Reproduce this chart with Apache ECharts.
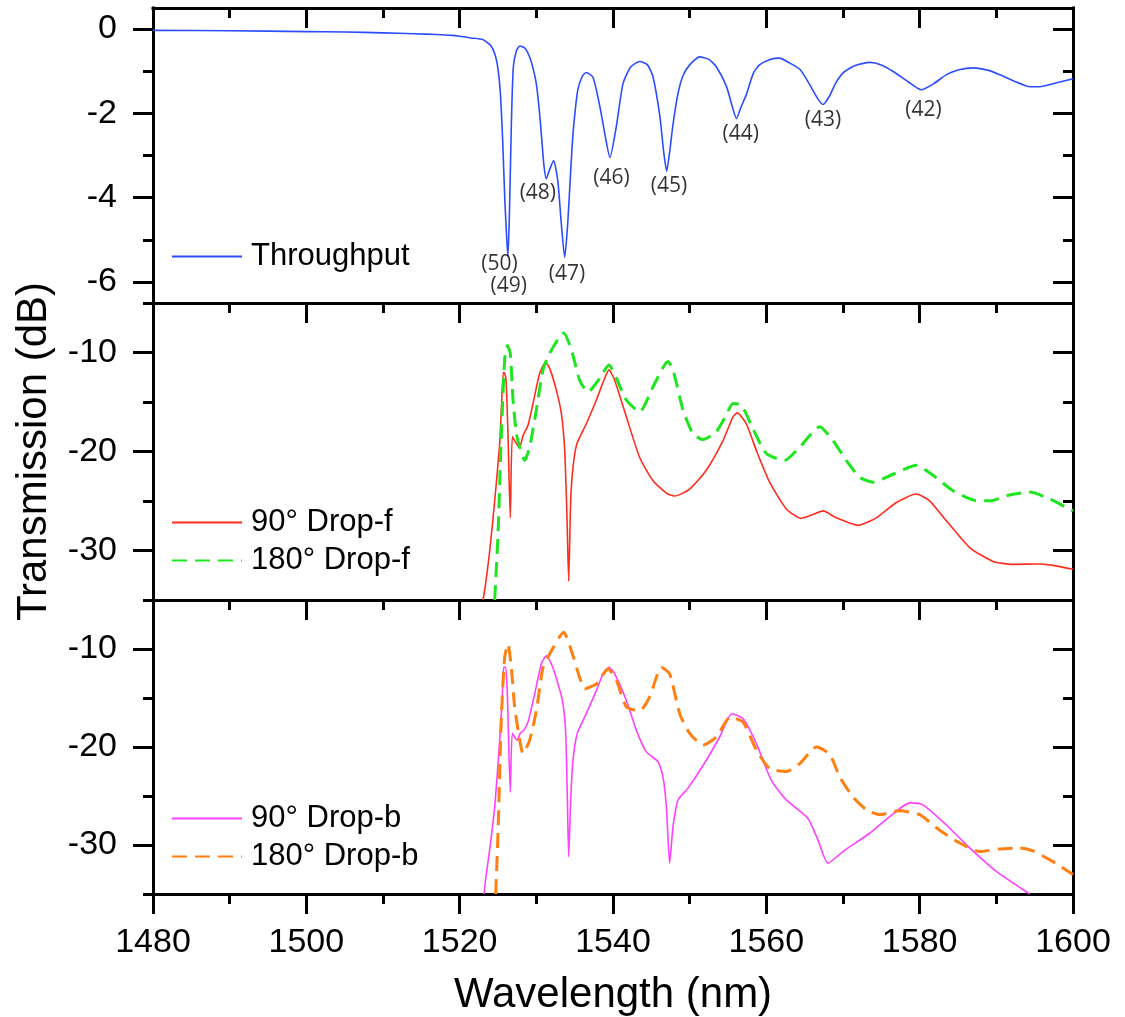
<!DOCTYPE html>
<html>
<head>
<meta charset="utf-8">
<script src="https://cdn.jsdelivr.net/npm/echarts@6/dist/echarts.min.js"></script>
<style>
html,body{margin:0;padding:0;background:#fff;}
#chart{width:1125px;height:1017px;}
</style>
</head>
<body>
<div id="chart"></div>
<script>
// ---------------- DATA ----------------
const xTicks = [1480, 1500, 1520, 1540, 1560, 1580, 1600];

const p1MajorTicks = [-6, -4, -2, 0];
const p1MinorTicks = [-5, -3, -1];
const p23MajorTicks = [-30, -20, -10];
const p23MinorTicks = [-35, -25, -15, -5];

// Throughput
const tpWl = [1480, 1490, 1500, 1505, 1510, 1514, 1517, 1519, 1520, 1521.5, 1523, 1524, 1524.6, 1525, 1525.3, 1525.6, 1525.9, 1526.15, 1526.3, 1526.5, 1526.75, 1527, 1527.4, 1527.85, 1528.5, 1529.1, 1529.6, 1530, 1530.4, 1530.7, 1531, 1531.3, 1531.7, 1532.25, 1532.8, 1533.25, 1533.7, 1534.1, 1534.5, 1534.8, 1535.4, 1536, 1536.5, 1537.4, 1538.3, 1539, 1539.6, 1540.4, 1541.3, 1542.3, 1543.5, 1544.5, 1545.2, 1546.1, 1546.6, 1547, 1547.4, 1547.8, 1548.4, 1549.1, 1550, 1551.3, 1552.5, 1553.5, 1554.8, 1555.5, 1556.1, 1556.7, 1557.4, 1558.3, 1559.1, 1560.5, 1561.7, 1563, 1564.4, 1565.6, 1566.7, 1567.4, 1568.2, 1569, 1570, 1571.5, 1573.5, 1575, 1576.5, 1578.5, 1580.2, 1581.8, 1583.5, 1585, 1587, 1589, 1590.4, 1592.5, 1594.4, 1595.5, 1596.5, 1598, 1600];
const tpVal = [-0.03, -0.04, -0.06, -0.07, -0.09, -0.11, -0.13, -0.15, -0.17, -0.21, -0.25, -0.38, -0.6, -0.95, -1.5, -2.6, -4.1, -5.0, -5.4, -4.3, -2.2, -0.9, -0.52, -0.4, -0.45, -0.65, -0.95, -1.3, -1.95, -2.6, -3.25, -3.55, -3.35, -3.12, -3.6, -4.6, -5.42, -4.6, -3.3, -2.45, -1.45, -1.12, -1.03, -1.15, -1.85, -2.55, -3.05, -2.35, -1.3, -0.9, -0.77, -0.85, -1.12, -2.05, -2.9, -3.37, -2.9, -2.3, -1.6, -1.12, -0.85, -0.66, -0.72, -0.9, -1.36, -1.8, -2.12, -1.85, -1.55, -1.05, -0.85, -0.72, -0.69, -0.8, -0.96, -1.3, -1.65, -1.79, -1.6, -1.3, -1.04, -0.87, -0.79, -0.85, -1.0, -1.25, -1.44, -1.3, -1.08, -0.97, -0.92, -0.98, -1.08, -1.25, -1.37, -1.37, -1.34, -1.27, -1.18];

// 90° Drop-f
const dropF90Wl = [1523.05, 1523.3, 1523.91, 1524.57, 1525.22, 1525.45, 1525.7, 1525.87, 1526.05, 1526.3, 1526.6, 1526.87, 1527.4, 1527.83, 1528.26, 1528.91, 1529.57, 1530.44, 1531.22, 1531.74, 1532.61, 1533.27, 1533.7, 1534.0, 1534.22, 1534.48, 1534.78, 1535.3, 1536.52, 1537.83, 1538.91, 1539.48, 1540.22, 1541.74, 1543.48, 1545.22, 1546.96, 1548.04, 1550.0, 1552.17, 1554.35, 1555.65, 1556.2, 1557.39, 1558.7, 1560.43, 1562.61, 1564.57, 1566.0, 1567.39, 1569.13, 1571.96, 1574.35, 1576.96, 1579.57, 1581.3, 1583.48, 1586.52, 1589.57, 1592.17, 1595.22, 1597.39, 1600];
const dropF90Val = [-35, -33.8, -30.1, -25.0, -19.2, -15.5, -12.0, -12.1, -12.8, -18.2, -26.7, -18.5, -19.2, -19.56, -18.4, -17.35, -15.15, -12.1, -11.0, -11.6, -13.8, -16.2, -19.9, -26.7, -33.1, -25.0, -21.6, -19.2, -17.2, -14.8, -12.6, -11.76, -12.8, -16.5, -20.6, -22.95, -24.2, -24.5, -23.8, -21.9, -18.9, -16.5, -16.1, -17.2, -19.9, -23.1, -25.8, -26.75, -26.4, -26.0, -26.7, -27.46, -26.7, -25.15, -24.3, -24.98, -27.0, -29.7, -31.1, -31.4, -31.36, -31.5, -31.9];

// 180° Drop-f
const dropF180Wl = [1524.57, 1525.0, 1525.44, 1525.87, 1526.22, 1526.6, 1526.96, 1527.4, 1527.83, 1528.48, 1529.13, 1530.0, 1530.87, 1531.74, 1533.57, 1534.57, 1535.65, 1536.74, 1538.26, 1539.48, 1540.44, 1541.74, 1543.48, 1545.22, 1547.17, 1547.83, 1549.13, 1550.43, 1551.74, 1553.48, 1554.78, 1555.65, 1556.74, 1558.26, 1560.0, 1562.39, 1564.35, 1566.96, 1568.7, 1570.43, 1572.17, 1573.91, 1576.52, 1579.57, 1581.74, 1584.35, 1586.96, 1589.13, 1591.74, 1594.35, 1596.96, 1600];
const dropF180Val = [-35, -28.4, -18.2, -10.7, -9.3, -10.06, -14.8, -18.2, -19.56, -20.9, -19.56, -15.8, -11.76, -10.06, -8.03, -9.7, -12.8, -14.0, -12.6, -11.25, -12.6, -14.8, -16.0, -13.46, -10.9, -11.76, -15.8, -18.2, -18.8, -18.0, -16.3, -15.15, -15.3, -17.7, -20.2, -20.9, -19.56, -17.5, -18.9, -20.9, -22.6, -23.1, -22.3, -21.4, -22.4, -23.97, -24.9, -24.98, -24.4, -24.1, -24.8, -26.0];

// 90° Drop-b
const dropB90Wl = [1523.18, 1523.35, 1523.91, 1524.57, 1525.22, 1525.57, 1525.74, 1526.0, 1526.22, 1526.6, 1526.87, 1527.48, 1527.91, 1528.35, 1528.91, 1529.78, 1530.66, 1531.31, 1531.96, 1532.83, 1533.48, 1533.83, 1534.05, 1534.22, 1534.48, 1534.78, 1535.35, 1536.52, 1537.83, 1538.7, 1539.48, 1540.22, 1541.74, 1543.05, 1544.35, 1545.87, 1546.52, 1546.96, 1547.39, 1547.83, 1548.48, 1549.78, 1552.17, 1553.91, 1555.5, 1556.96, 1558.7, 1560.65, 1562.61, 1565.43, 1566.74, 1568.04, 1570.0, 1573.48, 1576.09, 1578.7, 1580.43, 1583.48, 1586.52, 1590.0, 1594.35];
const dropB90Val = [-35, -33.7, -30.5, -26.1, -19.3, -14.6, -11.87, -11.87, -14.6, -24.6, -18.6, -19.3, -18.6, -18.3, -17.46, -14.6, -11.5, -10.7, -11.5, -13.56, -15.6, -18.6, -25.4, -31.2, -25.4, -21.35, -18.6, -16.6, -14.24, -12.54, -11.87, -12.54, -15.25, -18.3, -20.5, -21.5, -23.05, -26.1, -31.85, -28.1, -25.4, -24.2, -21.35, -18.98, -16.6, -17.1, -19.65, -23.4, -25.4, -27.3, -29.5, -31.85, -30.67, -28.8, -27.1, -25.7, -25.9, -27.96, -30.3, -32.7, -35.0];

// 180° Drop-b
const dropB180Wl = [1524.7, 1525.0, 1525.44, 1525.87, 1526.3, 1526.74, 1527.17, 1527.83, 1528.26, 1529.13, 1530.0, 1530.87, 1531.74, 1533.57, 1534.57, 1535.65, 1536.3, 1537.83, 1539.35, 1540.44, 1541.74, 1543.48, 1544.78, 1546.3, 1547.39, 1548.7, 1550.0, 1551.74, 1553.48, 1555.3, 1556.96, 1558.7, 1560.43, 1562.61, 1564.35, 1566.52, 1568.26, 1569.57, 1571.3, 1573.04, 1574.78, 1577.39, 1580.0, 1582.61, 1585.22, 1587.83, 1590.43, 1593.04, 1594.78, 1597.39, 1600];
const dropB180Val = [-35, -28.8, -16.95, -10.85, -9.5, -11.87, -15.9, -19.3, -20.67, -19.3, -16.3, -11.87, -10.5, -8.3, -10.17, -12.9, -14.07, -13.56, -12.03, -13.2, -15.9, -16.3, -14.9, -11.87, -12.54, -16.6, -18.6, -19.8, -18.98, -16.95, -17.46, -20.3, -22.2, -22.5, -21.7, -20.0, -20.74, -23.05, -25.1, -26.4, -26.9, -26.5, -26.9, -28.5, -29.8, -30.67, -30.4, -30.3, -30.6, -31.7, -33.0];

// Resonance order annotations (top panel)
const annoLabels = ['(50)', '(49)', '(48)', '(47)', '(46)', '(45)', '(44)', '(43)', '(42)'];
const annoWl = [1525.2, 1526.4, 1530.2, 1534.0, 1539.8, 1547.3, 1556.65, 1567.4, 1580.5];
const annoVal = [-5.58, -6.09, -3.88, -5.82, -3.53, -3.73, -2.5, -2.15, -1.91];

// ---------------- CHART ----------------
const FONT = '"Liberation Sans", Arial, sans-serif';
const BLACK = '#000';
const axisLineStyle = { color: BLACK, width: 3, cap: 'square' };
const tickLineStyle = { color: BLACK, width: 3 };

const grids = [
  { left: 153, right: 52, top: 8, height: 295, outerBoundsMode: 'none' },
  { left: 153, right: 52, top: 303, height: 297, outerBoundsMode: 'none' },
  { left: 153, right: 52, top: 600, height: 294, outerBoundsMode: 'none' }
];
const yRanges = [[-6.5, 0.5], [-35, -5], [-35, -5]];
const yMajor = [p1MajorTicks, p23MajorTicks, p23MajorTicks];
const yMinor = [p1MinorTicks, p23MinorTicks, p23MinorTicks];

const xAxes = [];
const yAxes = [];
for (let g = 0; g < 3; g++) {
  const isLast = g === 2;
  xAxes.push({
    type: 'value', gridIndex: g, position: 'bottom',
    min: xTicks[0], max: xTicks[xTicks.length - 1], interval: 20,
    axisLine: { show: true, onZero: false, lineStyle: axisLineStyle },
    axisTick: { show: isLast, inside: false, length: 20, lineStyle: tickLineStyle },
    minorTick: { show: isLast, splitNumber: 2, length: 10, lineStyle: tickLineStyle },
    axisLabel: { show: isLast, interval: 0, fontSize: 34, margin: 32, color: BLACK, fontFamily: FONT,
                 formatter: v => String(v) },
    splitLine: { show: false },
    name: isLast ? 'Wavelength (nm)' : '',
    nameLocation: 'middle', nameGap: 80,
    nameTextStyle: { fontSize: 42, color: BLACK, fontFamily: FONT }
  });
  xAxes.push({
    type: 'value', gridIndex: g, position: 'top',
    min: xTicks[0], max: xTicks[xTicks.length - 1], interval: 20,
    axisLine: { show: true, onZero: false, lineStyle: axisLineStyle },
    axisTick: { show: true, inside: true, length: 20, lineStyle: tickLineStyle },
    minorTick: { show: true, splitNumber: 2, length: 10, lineStyle: tickLineStyle },
    axisLabel: { show: false },
    splitLine: { show: false }
  });
  const [ymin, ymax] = yRanges[g];
  yAxes.push({
    type: 'value', gridIndex: g, position: 'left', min: ymin, max: ymax,
    axisLine: { show: true, onZero: false, lineStyle: axisLineStyle },
    axisTick: { show: true, inside: false, length: 20, customValues: yMajor[g], lineStyle: tickLineStyle },
    axisLabel: { show: true, customValues: yMajor[g], fontSize: 34, margin: 36, color: BLACK, fontFamily: FONT,
                 formatter: v => String(v) },
    splitLine: { show: false },
    name: g === 1 ? 'Transmission (dB)' : '',
    nameLocation: 'middle', nameGap: 98,
    nameTextStyle: { fontSize: 42, color: BLACK, fontFamily: FONT }
  });
  yAxes.push({
    type: 'value', gridIndex: g, position: 'left', min: ymin, max: ymax,
    axisLine: { show: false },
    axisTick: { show: true, inside: false, length: 10, customValues: yMinor[g], lineStyle: tickLineStyle },
    axisLabel: { show: false },
    splitLine: { show: false }
  });
  yAxes.push({
    type: 'value', gridIndex: g, position: 'right', min: ymin, max: ymax,
    axisLine: { show: true, onZero: false, lineStyle: axisLineStyle },
    axisTick: { show: true, inside: true, length: 20, customValues: yMajor[g], lineStyle: tickLineStyle },
    axisLabel: { show: false },
    splitLine: { show: false }
  });
  yAxes.push({
    type: 'value', gridIndex: g, position: 'right', min: ymin, max: ymax,
    axisLine: { show: false },
    axisTick: { show: true, inside: true, length: 10, customValues: yMinor[g], lineStyle: tickLineStyle },
    axisLabel: { show: false },
    splitLine: { show: false }
  });
}

function zip(a, b) { return a.map((v, i) => [v, b[i]]); }

function lineSeries(name, wl, val, gIdx, color, width, dashed) {
  return {
    name: name, type: 'line',
    xAxisIndex: gIdx * 2, yAxisIndex: gIdx * 4,
    data: zip(wl, val),
    symbol: 'none', showSymbol: false, smooth: 0.2,
    lineStyle: { color: color, width: width, type: dashed ? [15, 8] : 'solid' },
    itemStyle: { color: color },
    clip: true, z: 3
  };
}

const COL_BLUE = '#2b4cff';
const COL_RED = '#ff2d1e';
const COL_GREEN = '#1ee61e';
const COL_MAG = '#ff40ff';
const COL_ORANGE = '#ff8010';

const series = [
  lineSeries('Throughput', tpWl, tpVal, 0, COL_BLUE, 1.6, false),
  lineSeries('90° Drop-f', dropF90Wl, dropF90Val, 1, COL_RED, 1.6, false),
  lineSeries('180° Drop-f', dropF180Wl, dropF180Val, 1, COL_GREEN, 3, true),
  lineSeries('90° Drop-b', dropB90Wl, dropB90Val, 2, COL_MAG, 1.6, false),
  lineSeries('180° Drop-b', dropB180Wl, dropB180Val, 2, COL_ORANGE, 3, true),
  {
    name: 'orders', type: 'scatter', xAxisIndex: 0, yAxisIndex: 0,
    symbolSize: 1, itemStyle: { color: 'rgba(0,0,0,0)' },
    data: annoLabels.map((l, i) => ({ name: l, value: [annoWl[i], annoVal[i]] })),
    label: {
      show: true, position: 'inside', formatter: p => p.name,
      fontSize: 21, color: '#000', fontFamily: '"Open Sans", "Noto Sans", sans-serif'
    },
    silent: true, z: 4
  }
];

const legendText = { fontSize: 31, color: BLACK, fontFamily: FONT, padding: [0, 0, 0, 4] };
const legendBase = {
  left: 171, orient: 'vertical', padding: 0, itemWidth: 70, itemHeight: 14, itemGap: 7,
  textStyle: legendText, selectedMode: false,
  itemStyle: { color: 'rgba(0,0,0,0)', borderWidth: 0, opacity: 0 }
};
const legends = [
  Object.assign({}, legendBase, { data: ['Throughput'], top: 241 }),
  Object.assign({}, legendBase, { data: ['90° Drop-f', '180° Drop-f'], top: 507 }),
  Object.assign({}, legendBase, { data: ['90° Drop-b', '180° Drop-b'], top: 803 })
];

const chart = echarts.init(document.getElementById('chart'), null, { renderer: 'canvas' });
chart.setOption({
  backgroundColor: '#fff',
  animation: false,
  textStyle: { fontFamily: FONT },
  grid: grids,
  xAxis: xAxes,
  yAxis: yAxes,
  legend: legends,
  series: series
});
</script>
</body>
</html>
